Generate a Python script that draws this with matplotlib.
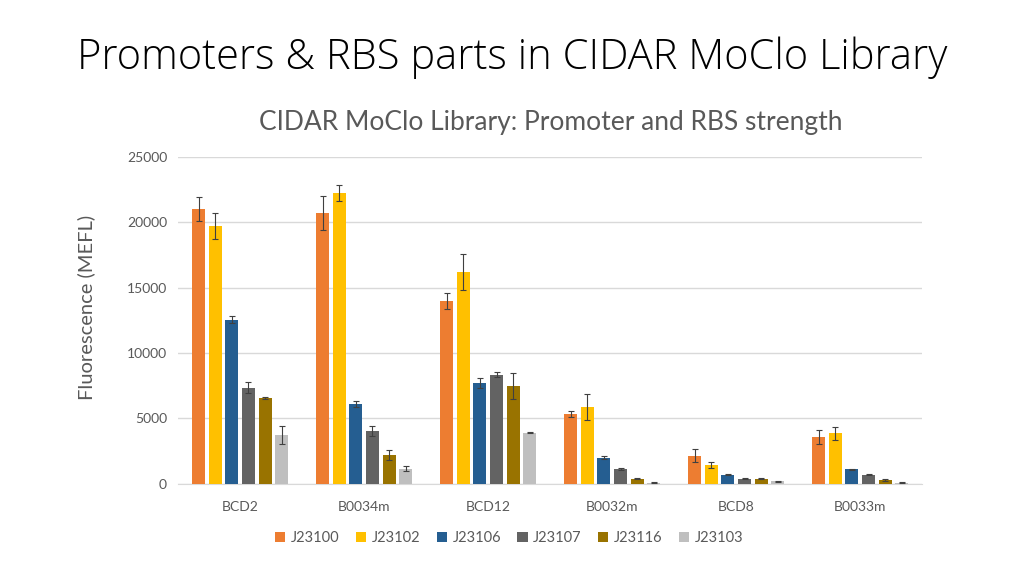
import numpy as np
import matplotlib
matplotlib.use("Agg")
import matplotlib.pyplot as plt

plt.rcParams['font.family'] = ['Lato', 'DejaVu Sans']

categories = ["BCD2", "B0034m", "BCD12", "B0032m", "BCD8", "B0033m"]
series = ["J23100", "J23102", "J23106", "J23107", "J23116", "J23103"]
colors = ["#ED7D31", "#FFC000", "#255E91", "#636363", "#997300", "#BFBFBF"]

j23100 = [21000, 20700, 14000, 5350, 2150, 3600]
j23102 = [19700, 22250, 16200, 5900, 1450, 3850]
j23106 = [12550, 6100, 7700, 2000, 700, 1100]
j23107 = [7350, 4050, 8350, 1100, 400, 700]
j23116 = [6570, 2200, 7500, 400, 400, 300]
j23103 = [3750, 1150, 3900, 100, 200, 100]

err_j23100 = [900, 1300, 600, 250, 500, 550]
err_j23102 = [1000, 600, 1400, 1000, 250, 500]
err_j23106 = [250, 200, 400, 100, 50, 50]
err_j23107 = [400, 400, 200, 80, 50, 50]
err_j23116 = [50, 400, 1000, 50, 50, 50]
err_j23103 = [700, 200, 50, 30, 50, 30]

values = [j23100, j23102, j23106, j23107, j23116, j23103]
errors = [err_j23100, err_j23102, err_j23106, err_j23107, err_j23116, err_j23103]

fig = plt.figure(figsize=(10.24, 5.76), dpi=100)
ax = fig.add_axes([0.174, 0.16, 0.7266, 0.5677])

x = np.arange(len(categories))
pitch = 0.134
width = 0.105
for i, (name, vals, errs, c) in enumerate(zip(series, values, errors, colors)):
    pos = x + (i - 2.5) * pitch
    ax.bar(pos, vals, width, color=c, label=name, zorder=3)
    ax.errorbar(pos, vals, yerr=errs, fmt="none", ecolor="#404040",
                elinewidth=0.8, capsize=2.5, capthick=0.8, zorder=4)

ax.set_xlim(-0.5, len(categories) - 0.5)
ax.set_ylim(0, 25000)
ax.set_yticks(range(0, 25001, 5000))
ax.set_xticks(x)
ax.set_xticklabels(categories)
ax.grid(axis="y", color="#d9d9d9", linewidth=1, zorder=0)
for s in ["top", "right", "left"]:
    ax.spines[s].set_visible(False)
ax.spines["bottom"].set_color("#d9d9d9")
ax.tick_params(axis="both", length=0, labelsize=10, colors="#595959", pad=8)
ax.tick_params(axis="x", pad=12)
ax.set_ylabel("Fluorescence (MEFL)", fontsize=14.5, color="#595959")
ax.yaxis.set_label_coords(-0.111, 0.54)

ax.legend(loc="center", bbox_to_anchor=(0.445, -0.165), ncol=6, frameon=False,
          fontsize=10.5, handlelength=0.7, handleheight=0.7, handletextpad=0.4,
          columnspacing=1.1, labelcolor="#595959")

fig.text(0.5, 0.9, "Promoters & RBS parts in CIDAR MoClo Library",
         ha="center", va="center", fontsize=30, color="#000000",
         family=["Open Sans", "DejaVu Sans"], fontweight="light")
fig.text(0.538, 0.788, "CIDAR MoClo Library: Promoter and RBS strength",
         ha="center", va="center", fontsize=19, color="#595959")

fig.savefig("out.png", dpi=100)
